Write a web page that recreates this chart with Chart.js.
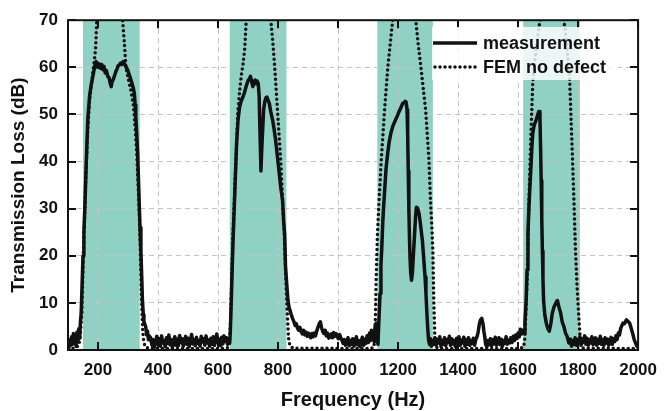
<!DOCTYPE html>
<html><head><meta charset="utf-8">
<script src="https://cdn.jsdelivr.net/npm/chart.js@4/dist/chart.umd.min.js"></script>
<style>html,body{margin:0;padding:0;background:#fff}</style>
</head><body>
<canvas id="c" width="667" height="411"></canvas>
<script>
const xTickValues = [200,400,600,800,1000,1200,1400,1600,1800,2000];
const yTickValues = [0,10,20,30,40,50,60,70];
const stopBands = [[150,339],[639,828],[1131,1316],[1617,1806]];
const seriesNames = ['measurement','FEM no defect'];
const xTitle = 'Frequency (Hz)';
const yTitle = 'Transmission Loss (dB)';

// measurement: [frequency Hz, transmission loss dB]
const measured = [
[100,1.5],[103,0.5],[106,2.2],[109,1.0],[112,2.8],[115,1.2],[118,3.5],[121,1.5],[124,2.5],[127,0.8],[130,3.8],[133,2.0],[136,4.5],[139,2.5],[141,5.5],[144,8],[147,14],[150,20],[153,25],[156,30],[161,40],[166,49],[172,54],[178,56.5],[184,58.5],[190,60.5],[194,61.2],[199,60.0],[203,60.8],[208,59.8],[212,60.6],[216,59.5],[220,60.2],[224,58.8],[228,59.3],[233,58.0],[237,57.8],[241,56.5],[244,55.9],[247,57.0],[251,57.4],[255,58.2],[259,59.0],[263,59.6],[267,60.3],[271,60.5],[275,60.9],[279,60.6],[284,61.2],[288,60.8],[292,60.2],[296,59.8],[299,59.4],[303,58.6],[307,57.9],[310,57.3],[314,56.4],[318,55.5],[321,54.5],[324,52],[326,49.5],[329,46],[332,42],[335,36],[337,32],[340,26],[343,21],[346,15],[348,10.6],[351,7.5],[353,6],[356,5.5],[359,4.9],[362,3.2],[365,4.0],[368,2.2],[371,3.0],
[375,2.6],[380,1.0],[384,2.2],[388,0.6],[392,1.8],[396,2.9],[400,1.2],[404,2.4],[408,0.8],[412,3.0],[416,1.5],[420,2.0],[424,0.7],[428,2.6],[432,1.4],[436,3.2],[440,1.1],[444,2.2],[448,0.6],[452,1.9],[456,2.8],[460,1.0],[464,2.3],[468,0.9],[472,3.1],[476,1.6],[480,2.4],[484,0.8],[488,1.8],[492,2.9],[496,1.2],[500,2.5],[504,0.7],[508,2.0],[512,3.3],[516,1.3],[520,2.2],[524,0.9],[528,2.7],[532,1.4],[536,2.0],[540,0.8],[544,2.9],[548,1.7],[552,2.4],[556,1.0],[560,3.0],[564,1.5],[568,2.1],[572,0.8],[576,2.5],[580,1.2],[584,2.8],[588,1.0],[592,2.2],[596,3.4],[600,1.5],[604,2.3],[608,0.9],[612,2.7],[616,1.3],[620,3.0],[624,1.8],[628,2.6],[632,1.2],[636,2.4],[639,1.5],
[641,4],[644,10],[647,17],[650,23],[654,30],[658,37],[662,44],[667,49],[672,51.6],[677,52.8],[683,53.7],[688,54.6],[693,55.8],[697,56.6],[701,57.3],[705,57.6],[708,58.1],[712,57.0],[716,55.9],[720,56.8],[723,57.3],[727,56.5],[730,57.1],[734,56.6],[737,54],[740,46],[743,38],[746,43],[749,47],[752,51],[756,52.8],[760,53.6],[763,53.7],[767,53],[771,52.3],[776,50.5],[782,48.8],[787,46.8],[792,44.5],[798,41],[804,37.5],[809,34.5],[815,31.8],[819,27],[822,24.7],[825,17.7],[829,14],[833,10.6],[837,9],[841,8.2],[845,7.3],[849,6.6],[853,6.0],[857,5.2],[861,5.6],[865,4.6],[869,4.2],[873,4.8],[877,3.9],[881,3.4],[885,4.2],[889,3.2],[893,3.8],[897,2.9],[901,3.6],[905,3.0],[909,2.6],[913,3.5],[917,2.8],[921,3.6],[925,3.0],[929,4.0],[933,4.8],[937,5.5],[941,6.0],[945,4.8],[949,3.9],[953,3.5],[957,4.2],[961,3.0],[965,3.6],[969,2.5],[973,2.8],[977,3.4],[981,2.6],[985,3.7],[989,2.9],[993,3.5],[997,3.0],[1001,2.4],[1005,3.3],[1009,2.6],[1013,2.1],[1017,1.4],[1021,2.2],[1025,1.0],[1029,1.8],[1033,2.6],[1037,0.9],[1041,2.0],[1045,1.2],[1049,2.4],[1053,0.8],[1057,1.7],[1061,2.8],[1065,1.1],[1069,2.0],[1073,0.7],[1077,1.9],[1081,2.7],[1085,1.0],[1089,2.3],[1093,1.4],[1097,3.0],[1101,1.6],[1105,3.6],[1108,2.0],[1111,4.2],[1114,2.5],[1117,3.5],[1120,1.8],[1123,4.8],[1127,5.7],[1130,3.0],[1133,1.2],
[1136,6],[1140,12],[1143,18],[1146,22],[1149,27],[1152,30.5],[1156,34.5],[1160,38.5],[1165,41.5],[1170,44],[1176,46],[1182,47.4],[1188,48.3],[1194,49.2],[1199,49.9],[1204,50.7],[1210,51.5],[1215,52.3],[1220,52.5],[1224,52.8],[1227,52.6],[1230,51],[1232,46],[1234,38],[1236,30],[1238,24],[1240,19.5],[1242,16.5],[1245,14.8],[1248,16.5],[1251,20],[1255,24.5],[1258,28],[1261,30.3],[1265,30.1],[1270,29],[1275,26.5],[1281,23.3],[1286,19],[1290,15.5],[1293,12],[1296,8],[1299,4.5],[1302,2],[1305,1.2],[1308,2.4],[1311,0.8],[1315,2.0],[1319,1.2],[1323,2.6],
[1327,1.0],[1331,2.3],[1335,1.5],[1339,2.8],[1343,0.8],[1347,2.0],[1351,1.2],[1355,2.6],[1359,0.9],[1363,2.2],[1367,1.6],[1371,2.9],[1375,1.0],[1379,2.4],[1383,1.3],[1387,2.0],[1391,0.7],[1395,2.5],[1399,1.4],[1403,2.8],[1407,1.0],[1411,2.1],[1415,1.5],[1419,2.7],[1423,0.8],[1427,2.2],[1431,1.2],[1435,2.6],[1439,1.0],[1443,2.0],[1447,1.4],[1451,2.5],[1455,1.0],[1459,2.2],[1463,2.8],[1467,3.8],[1471,5.5],[1475,6.4],[1479,6.7],[1483,5.6],[1486,4.0],[1489,2.8],[1492,1.2],[1496,0.7],[1500,2.0],[1504,1.1],[1508,2.4],[1512,0.9],[1516,2.2],[1520,1.3],[1524,2.7],[1528,1.0],[1532,1.9],[1536,2.6],[1540,1.1],[1544,2.3],[1548,0.8],[1552,2.0],[1556,1.4],[1560,2.8],[1564,1.2],[1568,2.1],[1572,1.5],[1576,2.6],[1580,1.6],[1584,2.9],[1588,2.0],[1592,3.2],[1596,2.4],[1600,3.6],[1604,2.8],[1608,4.4],[1612,3.4],[1616,4.2],[1620,3.6],
[1623,6],[1627,10.6],[1630,17],[1633,25],[1636,30],[1639,34],[1643,38.9],[1646,43],[1649,46],[1654,47.8],[1660,48.8],[1665,49.8],[1669,50.6],[1671,50.6],[1673,49],[1675,43],[1677,36],[1679,28],[1681,21],[1683,15],[1685,10.6],[1689,7.5],[1694,5.7],[1699,4.6],[1704,4.0],[1709,5.5],[1714,7.8],[1720,9.2],[1726,10.0],[1731,10.5],[1736,9.2],[1742,7.8],[1747,6.0],[1753,4.9],[1758,3.6],[1764,2.8],[1769,1.5],[1774,2.3],[1778,0.8],[1782,2.0],[1786,1.2],[1790,2.6],[1794,1.0],[1798,2.2],[1802,1.4],[1806,2.8],[1810,1.0],[1814,2.4],[1818,1.6],[1822,3.0],[1826,1.2],[1830,2.5],[1834,1.0],[1838,2.2],[1842,1.5],[1846,2.8],[1850,1.1],[1854,2.0],[1858,2.6],[1862,1.0],[1866,2.3],[1870,1.4],[1874,2.9],[1878,1.2],[1882,2.2],[1886,1.0],[1890,2.6],[1894,1.5],[1898,2.3],[1902,1.0],[1906,2.0],[1910,2.7],[1914,1.2],[1918,2.4],[1922,1.8],[1926,3.0],[1930,2.2],[1934,3.6],[1938,3.2],[1942,4.6],[1946,5.2],[1950,5.7],[1955,5.6],[1961,6.4],[1966,6.1],[1972,5.7],[1977,4.6],[1982,3.5],[1987,2.2],[1992,1.4],[1996,0.8],[2000,0.5]
];

// FEM no defect: [frequency Hz, transmission loss dB] (peaks run above the 70 dB axis top)
const femNoDefect = [
[100,0.3],[125,0.4],[136,1],[141,3],[146,8],[152,22],[158,34],[165,46],[172,53],[180,57.5],[187,61],[192,64],[196,70],[205,80],[225,88],[245,90],[265,86],[282,70],[288,65],[293,60],[301,57.5],[310,55],[318,52],[324,47],[329,42],[333,36],[337,30],[340,24],[343,16],[346,9],[349,4],[353,1.5],[360,0.5],[400,0.3],
[600,0.3],[634,0.5],[638,1.5],[641,5],[645,14],[650,25],[655,33],[660,41],[666,50.5],[672,55],[678,58.5],[683,60.5],[689,64],[694,70],[705,80],[735,88],[760,80],[776,70],[783,65],[789,60],[798,51],[809,40],[815,32],[821,24],[826,15],[831,7.7],[835,2.5],[840,0.8],[850,0.4],
[1100,0.3],[1119,0.5],[1122,2],[1125,8],[1127,15],[1131,24],[1136,31],[1144,40.3],[1155,50.9],[1166,60.1],[1174,65],[1182,70],[1195,80],[1220,88],[1245,80],[1259,70],[1267,65],[1276,60.1],[1292,50.9],[1303,40.3],[1308,31.8],[1312,27],[1316,21.2],[1319,10.6],[1323,2],[1327,0.6],[1340,0.3],
[1600,0.3],[1618,0.6],[1622,2],[1626,8],[1630,14.5],[1634,25],[1638,35.7],[1643,46],[1649,57],[1654,60],[1662,65],[1673,70],[1690,78],[1713,82],[1735,78],[1753,70],[1763,64],[1772,57.3],[1776,50],[1780,43],[1786,32],[1791,21.6],[1797,13],[1802,7.4],[1806,3.5],[1810,1.2],[1816,0.4],[2000,0.3]
];

const FONT = "'Liberation Sans', Arial, Helvetica, sans-serif";
const INK = '#111111';
const BAND = 'rgb(143,210,195)';
const DOTS = [0, 5];

const bandPlugin = {
  id: 'bands',
  beforeDraw(chart) {
    const {ctx, chartArea: a, scales: {x}} = chart;
    ctx.save();
    ctx.fillStyle = BAND;
    stopBands.forEach(([f0, f1]) => {
      const p0 = x.getPixelForValue(f0), p1 = x.getPixelForValue(f1);
      ctx.fillRect(p0, a.top, p1 - p0, a.bottom - a.top);
    });
    ctx.restore();
  }
};

const framePlugin = {
  id: 'frame',
  afterDatasetsDraw(chart) {
    const {ctx, chartArea: a, scales: {x, y}} = chart;
    ctx.save();
    ctx.strokeStyle = INK;
    ctx.lineWidth = 2;
    ctx.beginPath();
    const tl = 8;
    yTickValues.forEach(v => {
      const py = Math.round(y.getPixelForValue(v));
      ctx.moveTo(a.left, py); ctx.lineTo(a.left + tl, py);
      ctx.moveTo(a.right, py); ctx.lineTo(a.right - tl, py);
    });
    xTickValues.forEach(v => {
      const px = Math.round(x.getPixelForValue(v));
      ctx.moveTo(px, a.top); ctx.lineTo(px, a.top + tl);
      ctx.moveTo(px, a.bottom); ctx.lineTo(px, a.bottom - tl);
    });
    ctx.stroke();
    ctx.strokeRect(a.left, a.top, a.right - a.left, a.bottom - a.top);
    ctx.restore();
  }
};

const legendPlugin = {
  id: 'customLegend',
  afterDraw(chart) {
    const {ctx} = chart;
    ctx.save();
    ctx.fillStyle = 'rgba(255,255,255,0.82)';
    ctx.fillRect(432, 27, 181, 53);
    ctx.strokeStyle = INK;
    ctx.lineWidth = 3.5;
    ctx.lineCap = 'butt';
    ctx.beginPath(); ctx.moveTo(433, 43); ctx.lineTo(477, 43); ctx.stroke();
    ctx.lineCap = 'round';
    ctx.setLineDash(DOTS);
    ctx.beginPath(); ctx.moveTo(435, 67); ctx.lineTo(478, 67); ctx.stroke();
    ctx.setLineDash([]);
    ctx.fillStyle = INK;
    ctx.font = `bold 18px ${FONT}`;
    ctx.textBaseline = 'middle';
    ctx.textAlign = 'left';
    ctx.fillText(seriesNames[0], 483, 44);
    ctx.fillText(seriesNames[1], 483, 68);
    ctx.restore();
  }
};

const toXY = arr => arr.map(([f, v]) => ({x: f, y: v}));

new Chart(document.getElementById('c'), {
  type: 'line',
  data: {
    datasets: [
      {label: seriesNames[0], data: toXY(measured), borderColor: INK, borderWidth: 3.5, pointRadius: 0, tension: 0, clip: 0, borderJoinStyle: 'round'},
      {label: seriesNames[1], data: toXY(femNoDefect), borderColor: INK, borderWidth: 3.5, borderDash: DOTS, borderCapStyle: 'round', pointRadius: 0, tension: 0, clip: 0}
    ]
  },
  options: {
    responsive: false, animation: false, devicePixelRatio: 1,
    layout: {padding: {top: 20, right: 22, left: 0, bottom: 0}},
    plugins: {legend: {display: false}, tooltip: {enabled: false}},
    scales: {
      x: {
        type: 'linear', min: 100, max: 2000,
        afterBuildTicks: s => { s.ticks = xTickValues.map(v => ({value: v})); },
        afterFit: s => { s.height = 61; },
        grid: {color: '#c4c4c4', lineWidth: 1, drawTicks: false},
        border: {display: false, dash: [5, 4]},
        ticks: {font: {family: FONT, size: 17, weight: 'bold'}, color: INK, padding: 10, maxRotation: 0, autoSkip: false, callback: v => String(v)},
        title: {display: true, text: xTitle, color: INK, font: {family: FONT, size: 20, weight: 'bold', lineHeight: 1.1}, padding: 0}
      },
      y: {
        min: 0, max: 70,
        afterBuildTicks: s => { s.ticks = yTickValues.map(v => ({value: v})); },
        afterFit: s => { s.width = 68; },
        grid: {color: '#c4c4c4', lineWidth: 1, drawTicks: false},
        border: {display: false, dash: [5, 4]},
        ticks: {font: {family: FONT, size: 17, weight: 'bold'}, color: INK, padding: 10, callback: v => String(v)},
        title: {display: true, text: yTitle, color: INK, font: {family: FONT, size: 19, weight: 'bold', lineHeight: 1.2}, padding: {top: 7, bottom: 0}}
      }
    }
  },
  plugins: [bandPlugin, framePlugin, legendPlugin]
});
</script>
</body></html>
